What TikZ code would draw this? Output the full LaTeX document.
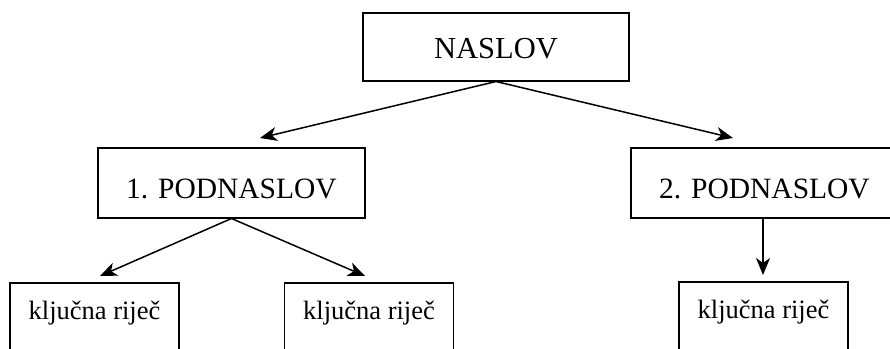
\documentclass[tikz,border=0pt]{standalone}
\usepackage{fontspec}
\setmainfont{Liberation Serif}
\usetikzlibrary{arrows.meta}
\begin{document}
\begin{tikzpicture}[
    x=1pt, y=-1pt,
    box/.style={draw, line width=1.5pt, inner sep=0pt, anchor=north, align=center},
    title/.style={box, minimum width=266pt, text height=46pt, text depth=22pt,
                  font=\fontsize{30.5}{36}\selectfont},
    subtitle/.style={box, minimum width=267pt, text height=51pt, text depth=19pt,
                     font=\fontsize{29.5}{35}\selectfont},
    keyword/.style={box, minimum width=169pt, text height=37pt, text depth=42pt,
                    font=\fontsize{26.5}{31}\selectfont},
    link/.style={line width=1.5pt, -{Stealth[length=17pt, width=14pt, inset=5pt]}},
  ]
    \useasboundingbox (0,0) rectangle (890,348);
    \begin{scope}
    \clip (0,0) rectangle (890,348);
    % boxes
    \node[title] (naslov) at (496,12) {NASLOV};
    \node[subtitle] (pod1) at (231.5,147) {1. PODNASLOV};
    \node[subtitle] (pod2) at (764.5,147) {2. PODNASLOV};
    \node[keyword] (kw1) at (94.5,282) {ključna riječ};
    \node[keyword] (kw2) at (369,282) {ključna riječ};
    \node[keyword] (kw3) at (763.5,281) {ključna riječ};
    % arrow tips
    \coordinate (tip1) at (260,138);
    \coordinate (tip2) at (733,138);
    \coordinate (tip3) at (100,276);
    \coordinate (tip4) at (365,276);
    \coordinate (tip5) at (763,275);
    % arrows
    \draw[link] (naslov.south) -- (tip1);
    \draw[link] (naslov.south) -- (tip2);
    \draw[link] (pod1.south) -- (tip3);
    \draw[link] (pod1.south) -- (tip4);
    \draw[link] (pod2.south -| tip5) -- (tip5);
    \end{scope}
  \end{tikzpicture}
\end{document}
